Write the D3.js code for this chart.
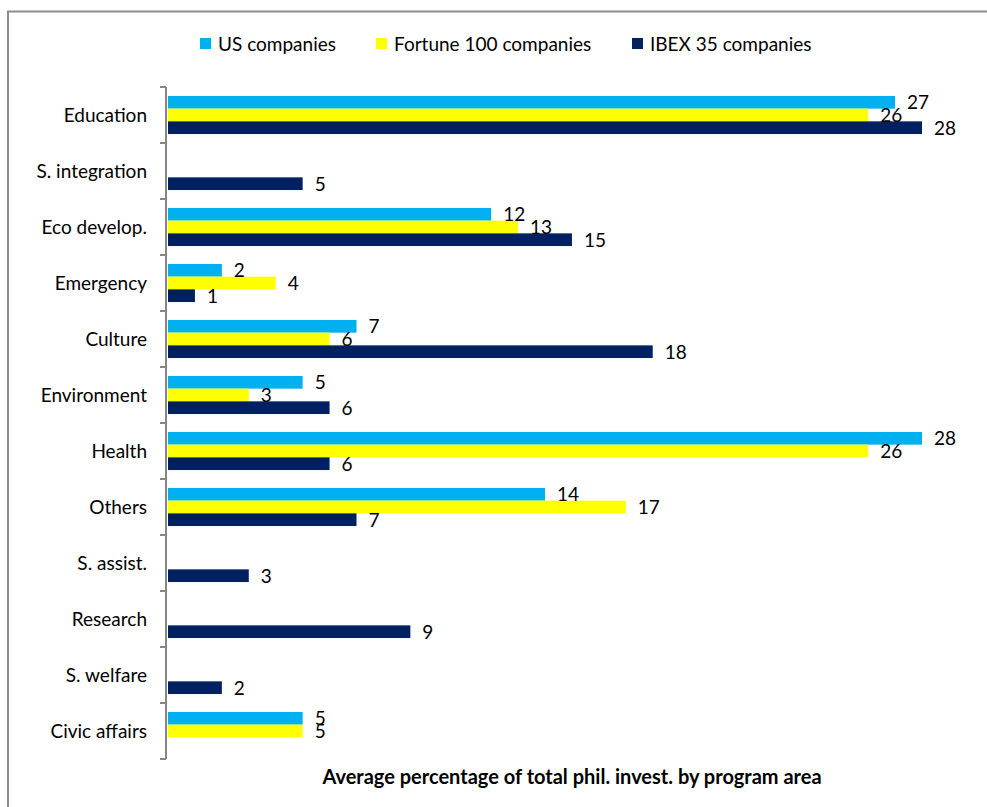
<!DOCTYPE html>
<html>
<head>
<meta charset="utf-8">
<script src="https://cdn.jsdelivr.net/npm/d3@7"></script>
<style>
  html, body { margin: 0; padding: 0; background: #fff; }
  svg { display: block; font-family: Lato, "Open Sans", sans-serif; }
</style>
</head>
<body>
<svg id="chart" width="987" height="807"></svg>
<script>
// Program areas, top to bottom
const categories = ["Education", "S. integration", "Eco develop.", "Emergency", "Culture",
  "Environment", "Health", "Others", "S. assist.", "Research", "S. welfare", "Civic affairs"];

const seriesNames = ["US companies", "Fortune 100 companies", "IBEX 35 companies"];

// Average percentage of total philanthropic investment (null = no bar)
const usCompanies      = [27, null, 12, 2, 7, 5, 28, 14, null, null, null, 5];
const fortune100       = [26, null, 13, 4, 6, 3, 26, 17, null, null, null, 5];
const ibex35           = [28, 5, 15, 1, 18, 6, 6, 7, 3, 9, 2, null];

const xTitle = "Average percentage of total phil. invest. by program area";

const colors = ["#00B0F0", "#FFFF00", "#002060"];
const seriesValues = [usCompanies, fortune100, ibex35];

const svg = d3.select("#chart");

// Outer frame (left and top edges visible)
svg.append("path")
  .attr("d", "M8,807 V11.5 H987")
  .attr("fill", "none")
  .attr("stroke", "#8c8c8c")
  .attr("stroke-width", 2);

const plot = { left: 167, top: 87, bottom: 759 };

const x = d3.scaleLinear().domain([0, 28]).range([plot.left + 1, 922]);
const y = d3.scaleBand().domain(categories).range([plot.top, plot.bottom])
  .paddingInner(0.32).paddingOuter(0.16);
const ySeries = d3.scaleBand().domain(d3.range(seriesNames.length)).range([0, y.bandwidth()]);

// Bars
const rows = [];
categories.forEach((c, i) => {
  seriesValues.forEach((vals, s) => {
    if (vals[i] != null) rows.push({ cat: c, s, v: vals[i] });
  });
});

const g = svg.append("g");
g.selectAll("rect.bar").data(rows).join("rect")
  .attr("class", "bar")
  .attr("x", x(0))
  .attr("y", d => y(d.cat) + ySeries(d.s))
  .attr("width", d => x(d.v) - x(0))
  .attr("height", ySeries.bandwidth())
  .attr("fill", d => colors[d.s]);

// Data labels
g.selectAll("text.val").data(rows).join("text")
  .attr("class", "val")
  .attr("x", d => x(d.v) + 12)
  .attr("y", d => y(d.cat) + ySeries(d.s) + ySeries.bandwidth() / 2 + 2)
  .attr("dominant-baseline", "middle")
  .attr("font-size", 19)
  .attr("fill", "#000")
  .text(d => d.v);

// Category axis
const axis = d3.axisLeft(y).tickSize(0).tickPadding(20);
const ag = svg.append("g").attr("transform", `translate(${plot.left},0)`).call(axis);
ag.select(".domain").remove();
ag.selectAll("text").attr("font-size", 19).attr("font-family", "Lato, sans-serif")
  .attr("fill", "#000").attr("dy", "0.35em");

// Axis line with tick marks at band boundaries
const bounds = d3.range(categories.length + 1).map(i => plot.top + i * (plot.bottom - plot.top) / categories.length);
svg.append("line")
  .attr("x1", plot.left - 1).attr("x2", plot.left - 1)
  .attr("y1", plot.top).attr("y2", plot.bottom)
  .attr("stroke", "#868686").attr("stroke-width", 2);
svg.selectAll("line.tk").data(bounds).join("line")
  .attr("class", "tk")
  .attr("x1", plot.left - 7).attr("x2", plot.left - 1)
  .attr("y1", d => d).attr("y2", d => d)
  .attr("stroke", "#868686").attr("stroke-width", 2);

// Axis title
svg.append("text")
  .attr("x", 572).attr("y", 779)
  .attr("text-anchor", "middle")
  .attr("dominant-baseline", "middle")
  .attr("font-size", 20)
  .attr("font-weight", "bold")
  .text(xTitle);

// Legend
const legendX = [200, 376, 632];
const lg = svg.append("g");
seriesNames.forEach((n, i) => {
  lg.append("rect").attr("x", legendX[i]).attr("y", 38).attr("width", 11).attr("height", 11)
    .attr("fill", colors[i]);
  lg.append("text").attr("x", legendX[i] + 18).attr("y", 46)
    .attr("dominant-baseline", "middle").attr("font-size", 19).text(n);
});
</script>
</body>
</html>
